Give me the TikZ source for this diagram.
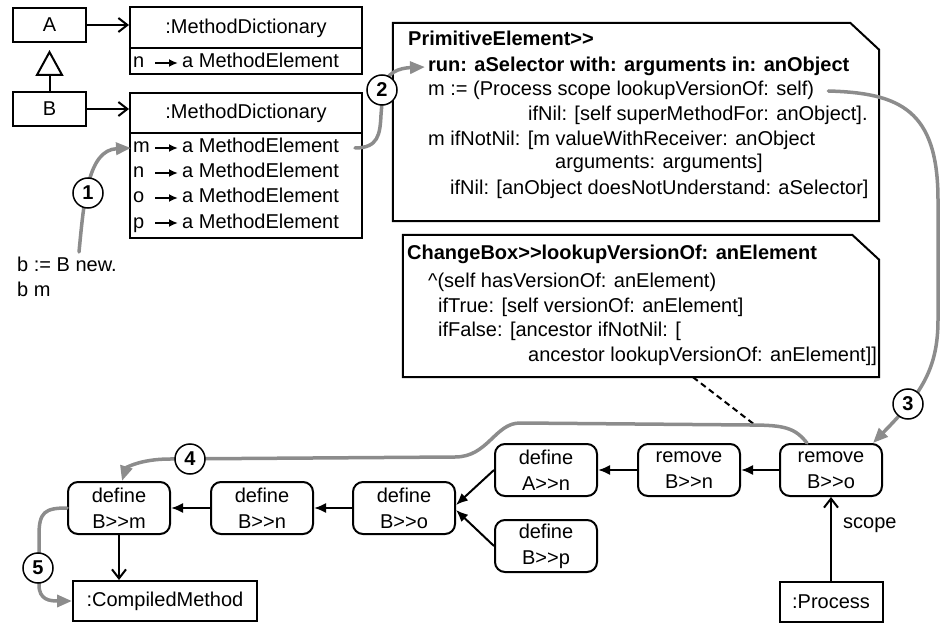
\documentclass[tikz,border=0pt]{standalone}
\usepackage{fontspec}
\setmainfont{Liberation Sans}
\usetikzlibrary{arrows.meta,calc}
\definecolor{graycol}{RGB}{140,140,140}
\newcommand\gtgt{>\kern0pt>}
\begin{document}
\begin{tikzpicture}[x=1pt,y=-1pt,
  font=\fontsize{20}{25}\selectfont,
  box/.style={draw,line width=2pt,inner sep=0pt},
  rbox/.style={draw,line width=2pt,rounded corners=10pt,minimum width=102pt,minimum height=52pt,align=center,inner sep=0pt,font=\fontsize{20}{26}\selectfont},
  txt/.style={anchor=west,inner sep=0pt,text height=14pt,text depth=4pt},
  btxt/.style={txt,font=\fontsize{20}{25}\selectfont\bfseries},
  num/.style={circle,draw,line width=1.5pt,fill=white,minimum size=30pt,inner sep=0pt,font=\fontsize{20}{24}\selectfont\bfseries},
  blk/.style={line width=2pt,-{Latex[length=12pt,width=10pt]}},
  openarr/.style={line width=2pt,-{Straight Barb[length=9pt,width=14pt]}},
  rowarr/.style={line width=1.8pt,-{Latex[length=9pt,width=8pt]}},
  flow/.style={line width=3.5pt,draw=graycol,line cap=round,-{Triangle[length=15pt,width=12pt]}},
]
\path[use as bounding box] (0,0) rectangle (943,623);

% classes A and B
\node[box,minimum width=73pt,minimum height=34pt] (A) at (49.5,25) {A};
\node[box,minimum width=73pt,minimum height=34pt] (B) at (49.5,109) {B};
\draw[line width=2pt,shorten >=7pt,-{Triangle[open,length=26pt,width=28pt,line width=2pt]}] (B.north) -- (A.south);

% method dictionaries
\node[box,minimum width=232pt,minimum height=67pt] (md1) at (246,40.5) {};
\draw[line width=1.5pt] (130,48) -- (362,48);
\node (md1t) at (246,28) {:MethodDictionary};
\node[txt] (a1) at (133,63) {n};
\node[txt] (a1e) at (182,63) {a MethodElement};
\draw[rowarr] ([xshift=-27pt]a1e.west) -- ([xshift=-4pt]a1e.west);

\node[box,minimum width=232pt,minimum height=145pt] (md2) at (246,165.5) {};
\draw[line width=1.5pt] (130,133) -- (362,133);
\node (md2t) at (246,113) {:MethodDictionary};
\node[txt] (r1) at (133,148) {m};
\node[txt] (r1e) at (182,148) {a MethodElement};
\node[txt] (r2) at (133,173) {n};
\node[txt] (r2e) at (182,173) {a MethodElement};
\node[txt] (r3) at (133,198) {o};
\node[txt] (r3e) at (182,198) {a MethodElement};
\node[txt] (r4) at (133,223) {p};
\node[txt] (r4e) at (182,223) {a MethodElement};
\foreach \r in {r1e,r2e,r3e,r4e}
  \draw[rowarr] ([xshift=-27pt]\r.west) -- ([xshift=-4pt]\r.west);

\draw[openarr] (A.east) -- (A.east -| md1.west);
\draw[openarr] (B.east) -- (B.east -| md2.west);

% code
\node[txt] (bnew) at (17,266) {b := B new.};
\node[txt] (bm2) at (17,291) {b m};

% note 1
\node[minimum width=486pt,minimum height=198pt,inner sep=0pt] (note1) at (636,122) {};
\draw[line width=2pt] (note1.north west) -- ([xshift=-29pt]note1.north east) -- ([yshift=-27pt]note1.north east) -- (note1.south east) -- (note1.south west) -- cycle;
\node[btxt] (l1) at (408,41) {PrimitiveElement\gtgt};
\node[btxt] (l2) at (428,67) {run: aSelector with: arguments in: anObject};
\node[txt] (l3) at (428,91) {m := (Process scope lookupVersionOf: self)};
\node[txt] (l4) at (528,116) {ifNil: [self superMethodFor: anObject].};
\node[txt] (l5) at (428,141) {m ifNotNil: [m valueWithReceiver: anObject};
\node[txt] (l6) at (555,164) {arguments: arguments]};
\node[txt] (l7) at (450,189) {ifNil: [anObject doesNotUnderstand: aSelector]};

% note 2
\node[minimum width=476pt,minimum height=142pt,inner sep=0pt] (note2) at (641,306) {};
\draw[line width=2pt] (note2.north west) -- ([xshift=-27pt]note2.north east) -- ([yshift=-25pt]note2.north east) -- (note2.south east) -- (note2.south west) -- cycle;
\node[btxt] (k1) at (407,254) {ChangeBox\gtgt lookupVersionOf: anElement};
\node[txt] (k2) at (428,282) {\textasciicircum(self hasVersionOf: anElement)};
\node[txt] (k3) at (438,307) {ifTrue: [self versionOf: anElement]};
\node[txt] (k4) at (438,331) {ifFalse: [ancestor ifNotNil: [};
\node[txt] (k5) at (528,356) {ancestor lookupVersionOf: anElement]]};

% change boxes
\node[rbox] (bm) at (119,508) {define\\B\gtgt m};
\node[rbox] (bn) at (262,508) {define\\B\gtgt n};
\node[rbox] (bo) at (404,508) {define\\B\gtgt o};
\node[rbox] (an) at (546,470) {define\\A\gtgt n};
\node[rbox] (bp) at (546,546) {define\\B\gtgt p};
\node[rbox] (rn) at (689,470) {remove\\B\gtgt n};
\node[rbox] (ro) at (831,470) {remove\\B\gtgt o};
\node[box,minimum width=103pt,minimum height=40pt] (proc) at (831,602) {:Process};
\node[box,minimum width=184pt,minimum height=40pt] (cm) at (165,601) {:CompiledMethod};

\draw[blk] (ro.west) -- (rn.east);
\draw[blk] (rn.west) -- (an.east);
\draw[blk] (an.west) -- ([yshift=3pt]bo.east);
\draw[blk] (bp.west) -- ([yshift=-2pt]bo.east);
\draw[blk] (bo.west) -- (bn.east);
\draw[blk] (bn.west) -- (bm.east);
\draw[openarr] (bm.south) -- (bm.south |- cm.north);
\draw[openarr] (proc.north) -- (ro.south);
\node[txt] (scope) at (843,523) {scope};

% dashed link
\coordinate (dend) at (755,425);
\draw[line width=2pt,dash pattern=on 6pt off 4pt] ([xshift=52pt]note2.south) -- (dend);

% gray flow
\coordinate (p1s) at (79,252);
\draw[flow] (p1s) .. controls (84,200) and (88,150) .. ([xshift=-2pt]r1.west);
\coordinate (p2s) at (355,148);
\draw[flow] (p2s) .. controls (378,148) and (380,135) .. (381,115) -- (383,90) .. controls (385,72) and (400,68) .. ([xshift=-3pt]l2.west);
\draw[flow] ([xshift=14pt]l3.east) .. controls (900,93) and (938,110) .. (938,200) -- (938,320) .. controls (938,370) and (920,395) .. ([xshift=-10pt]ro.north east);
\draw[flow] ([xshift=-24pt]ro.north) .. controls (795,428) and (785,425) .. (750,425) -- (520,423) .. controls (495,423) and (488,457) .. (455,457) -- (170,459) .. controls (140,459) and (126,468) .. ([xshift=3pt]bm.north);
\draw[flow] (bm.west) .. controls (45,508) and (39,512) .. (39,535) -- (39,585) .. controls (39,600) and (50,601) .. (cm.west);

% step numbers
\node[num] (c1) at (88,193) {1};
\node[num] (c2) at (382,90) {2};
\node[num] (c3) at (908,404) {3};
\node[num] (c4) at (190,459) {4};
\node[num] (c5) at (38,568) {5};
\end{tikzpicture}
\end{document}
